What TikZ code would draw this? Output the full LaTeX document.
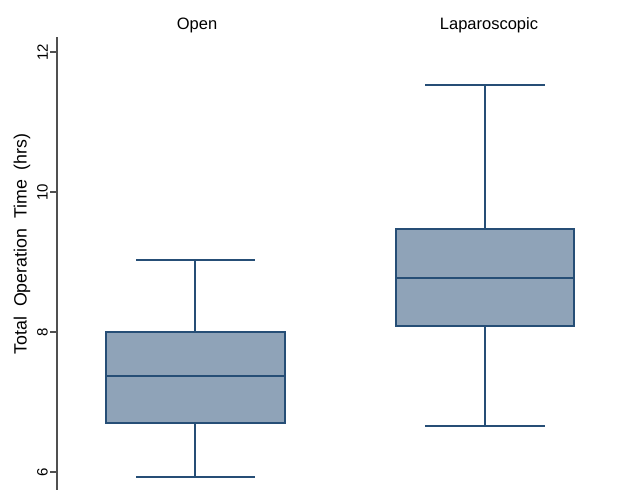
\documentclass[tikz,border=0pt]{standalone}
\usepackage{fontspec}
\setmainfont{Liberation Sans}
\usetikzlibrary{positioning}
\definecolor{boxfill}{RGB}{143,163,184}
\definecolor{boxline}{RGB}{38,78,118}
\definecolor{axisgray}{RGB}{80,80,80}
\tikzset{
	box/.style={draw=boxline,fill=boxfill,line width=1.1pt},
	whisk/.style={draw=boxline,line width=1.1pt},
	axisline/.style={draw=axisgray,line width=1.4pt},
	ticklabel/.style={font=\fontsize{15}{15}\selectfont,rotate=90,anchor=south,inner sep=2pt},
	grouplabel/.style={font=\fontsize{16.5}{17}\selectfont}
}
\begin{document}
\begin{tikzpicture}[x=1pt,y=-1pt]
				\useasboundingbox (0,0) rectangle (619,490);
				
				%%%% axis
				\coordinate (ytop) at (57,37);
				\coordinate (ybot) at (57,490);
				\draw[axisline] (ytop) -- (ybot);
				\foreach \v/\yy in {12/52,10/192,8/332,6/472}{
					\coordinate (t\v) at (57,\yy);
					\coordinate (s\v) at (50,\yy);
					\draw[axisline] (t\v) -- (s\v);
					\node[ticklabel] (l\v) at (s\v) {\v};
				}
				\node[rotate=90,font=\fontsize{17.8}{17}\selectfont] (ylab) at (22,244) {Total\ \ Operation\ \ Time\ \ (hrs)};
				
				%%%% Open
				\node[grouplabel] (gopen) at (197,25) {Open};
				\coordinate (ot) at (195,260);
				\coordinate (ob) at (195,477);
				\draw[box] (106,332) rectangle (285,423);
				\draw[whisk] (106,376) -- (285,376);
				\draw[whisk] (ot) -- (195,332) (195,423) -- (ob);
				\draw[whisk] (136,260) -- (255,260) (136,477) -- (255,477);
				
				%%%% Laparoscopic
				\node[grouplabel] (glap) at (489,25) {Laparoscopic};
				\coordinate (lt) at (485,85);
				\coordinate (lb) at (485,426);
				\draw[box] (396,229) rectangle (574,326);
				\draw[whisk] (396,278) -- (574,278);
				\draw[whisk] (lt) -- (485,229) (485,326) -- (lb);
				\draw[whisk] (425,85) -- (545,85) (425,426) -- (545,426);
\end{tikzpicture}
\end{document}
